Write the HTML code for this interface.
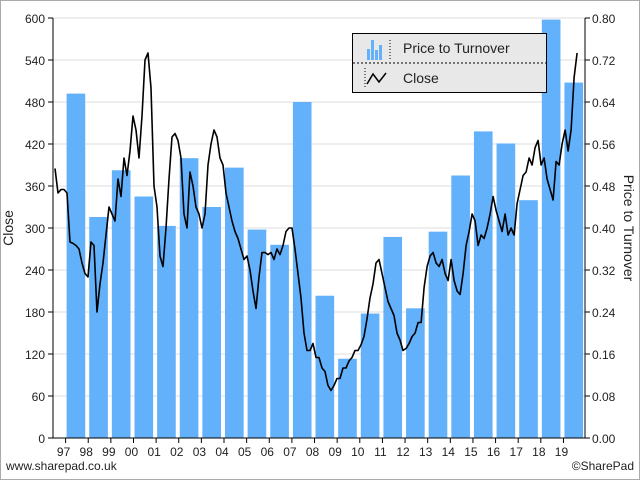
<!DOCTYPE html>
<html><head><meta charset="utf-8"><style>
body{margin:0;background:#fff;}
svg{display:block;font-family:"Liberation Sans",sans-serif;}
</style></head><body>
<svg id="chart" width="640" height="480" xmlns="http://www.w3.org/2000/svg">
<rect x="0.5" y="0.5" width="639" height="479" fill="#fff" stroke="#aaa"/>
<g id="grid"></g><g id="bars"></g><g id="line"></g><g id="axes"></g>
<text x="13" y="228" font-size="14" fill="#222" text-anchor="middle" transform="rotate(-90 13 228)">Close</text>
<text x="624" y="228" font-size="14" fill="#222" text-anchor="middle" transform="rotate(90 624 228)">Price to Turnover</text>
<text x="6" y="470" font-size="12" fill="#222">www.sharepad.co.uk</text>
<text x="634" y="470" font-size="12" fill="#222" text-anchor="end">©SharePad</text>
<g>
<rect x="352.5" y="33.5" width="194" height="59" fill="#e8e8e8" stroke="#000"/>
<line x1="353" y1="63" x2="546" y2="63" stroke="#000" stroke-dasharray="2,2"/>
<g>
<rect x="367" y="49" width="3" height="11" fill="#63b0fb"/><rect x="371" y="40" width="3" height="20" fill="#63b0fb"/><rect x="375" y="50" width="3" height="10" fill="#63b0fb"/><rect x="379" y="45" width="3" height="15" fill="#63b0fb"/>
<path d="M390 40 v20" stroke="#000" stroke-dasharray="1,2"/>
<text x="403" y="53" font-size="14" fill="#222">Price to Turnover</text></g>
<g>
<path d="M365 68 v20" stroke="#000" stroke-dasharray="1,2"/>
<path d="M367 84 L373 74 L379 82 L386 73" stroke="#000" stroke-width="1.5" fill="none"/>
<text x="403" y="83" font-size="14" fill="#222">Close</text></g>
</g>
</svg>
<script>
const years=["97","98","99","00","01","02","03","04","05","06","07","08","09","10","11","12","13","14","15","16","17","18","19"];
const ptValues=[0.656,0.421,0.51,0.46,0.404,0.533,0.44,0.515,0.397,0.368,0.64,0.271,0.151,0.237,0.383,0.247,0.393,0.5,0.584,0.561,0.453,0.797,0.677];
const leftTicks=[0,60,120,180,240,300,360,420,480,540,600];
const rightTicks=["0.00","0.08","0.16","0.24","0.32","0.40","0.48","0.56","0.64","0.72","0.80"];
const closeStart=1996.53, closeStep=0.1326;
const closeValues=[385,350,355,355,350,280,278,275,270,250,235,230,280,275,180,220,250,290,330,320,310,370,345,400,375,410,460,440,400,460,540,550,500,360,330,260,245,300,370,430,435,425,400,320,300,380,360,330,320,300,320,390,420,440,430,400,390,350,330,310,295,285,270,255,260,240,210,185,230,265,265,262,265,255,270,262,275,295,300,300,270,235,200,150,125,125,135,115,115,100,95,75,68,75,85,85,100,100,110,115,125,125,133,145,170,200,220,250,255,235,215,195,185,175,150,140,125,128,135,145,150,165,165,215,245,260,265,250,245,255,235,225,255,225,210,205,235,275,295,320,310,275,290,285,300,320,345,325,310,295,320,290,300,290,335,355,375,380,400,390,415,425,390,400,370,355,340,395,390,420,440,410,440,515,550];
const NS="http://www.w3.org/2000/svg";
const X0=53,X1=585,Y0=438,Y1=18,T0=65.6,TS=22.63;
const xYear=y=>T0+(y-1997)*TS;
const yL=v=>Y0-(v/600)*(Y0-Y1);
const yR=v=>Y0-(v/0.8)*(Y0-Y1);
function mk(t,a,p){const e=document.createElementNS(NS,t);for(const k in a)e.setAttribute(k,a[k]);p.appendChild(e);return e;}
const grid=document.getElementById('grid'),axes=document.getElementById('axes'),bars=document.getElementById('bars'),line=document.getElementById('line');
leftTicks.forEach((v,i)=>{const y=yL(v);
 if(v>0){const g=mk('line',{x1:X0,x2:X1,y1:y,y2:y,stroke:'#ddd'},grid);}
 mk('line',{x1:X0-5,x2:X0,y1:y,y2:y,stroke:'#000'},axes);
 const t=mk('text',{x:X0-8,y:y+5,'font-size':12,'text-anchor':'end',fill:'#222'},axes);t.textContent=v;
 
 
 mk('line',{x1:X1,x2:X1+5,y1:y,y2:y,stroke:'#000'},axes);
 const r=mk('text',{x:X1+7,y:y+5,'font-size':12,fill:'#222'},axes);r.textContent=rightTicks[i];
 
 
});
years.forEach((yr,i)=>{const x=xYear(1997+i);
 const h=Y0-yR(ptValues[i]);
 const b=mk('rect',{x:x+1,y:yR(ptValues[i]),width:TS-4,height:h,fill:'#63b0fb'},bars);
 
 
 mk('line',{x1:x,x2:x,y1:Y0,y2:Y0+5,stroke:'#000'},axes);
 const t=mk('text',{x:x-2,y:Y0+18,'font-size':12,'text-anchor':'middle',fill:'#222'},axes);t.textContent=yr;
 
 
});
mk('line',{x1:X0,x2:X0,y1:Y1,y2:Y0,stroke:'#000'},axes);
mk('line',{x1:X1,x2:X1,y1:Y1,y2:Y0,stroke:'#000'},axes);
mk('line',{x1:X0,x2:X1,y1:Y0,y2:Y0,stroke:'#000'},axes);
const pts=closeValues.map((v,i)=>xYear(closeStart+i*closeStep).toFixed(1)+','+yL(v).toFixed(1)).join(' ');
const pl=mk('polyline',{points:pts,fill:'none',stroke:'#000','stroke-width':1.6,'stroke-linejoin':'round'},line);


</script>
</body></html>
